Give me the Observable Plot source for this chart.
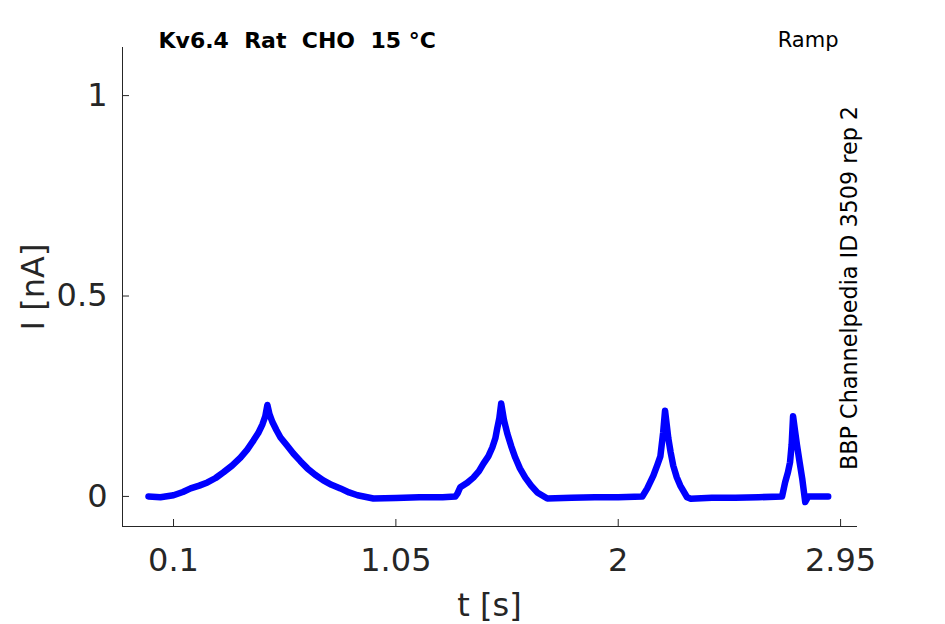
<!DOCTYPE html>
<html><head><meta charset="utf-8">
<script src="https://cdn.jsdelivr.net/npm/d3@7"></script>
<script src="https://cdn.jsdelivr.net/npm/@observablehq/plot@0.6"></script>
<style>body{margin:0;background:#fff}#chart{width:945px;height:624px}</style>
</head><body><div id="chart"></div>
<script>
const time = [-0.007, 0.044, 0.10, 0.14, 0.173, 0.21, 0.245, 0.28, 0.313, 0.35, 0.386, 0.415, 0.442, 0.462, 0.48, 0.492, 0.501, 0.51, 0.523, 0.54, 0.557, 0.585, 0.612, 0.642, 0.672, 0.705, 0.74, 0.775, 0.813, 0.85, 0.886, 0.954,
  1.05, 1.15, 1.25, 1.304, 1.313, 1.325, 1.355, 1.381, 1.405, 1.424, 1.445, 1.462, 1.475, 1.483, 1.492, 1.50, 1.512, 1.526, 1.543, 1.56, 1.58, 1.603, 1.628, 1.654, 1.697,
  1.8, 1.9, 2.0, 2.103, 2.124, 2.15, 2.168, 2.18, 2.192, 2.2, 2.207, 2.214, 2.224, 2.235, 2.25, 2.265, 2.294, 2.31,
  2.4, 2.5, 2.6, 2.7, 2.713, 2.725, 2.734, 2.741, 2.747, 2.755, 2.764, 2.775, 2.786, 2.799, 2.812, 2.85, 2.897];
const current = [0, -0.002, 0.003, 0.011, 0.02, 0.027, 0.035, 0.046, 0.06, 0.077, 0.097, 0.117, 0.14, 0.158, 0.18, 0.2, 0.228, 0.205, 0.185, 0.165, 0.147, 0.127, 0.107, 0.088, 0.07, 0.054, 0.04, 0.029, 0.02, 0.01, 0.003, -0.005,
  -0.004, -0.002, -0.002, 0, 0.007, 0.023, 0.034, 0.047, 0.063, 0.082, 0.1, 0.122, 0.145, 0.17, 0.195, 0.232, 0.19, 0.157, 0.125, 0.097, 0.07, 0.047, 0.027, 0.01, -0.005,
  -0.003, -0.002, -0.002, 0, 0.02, 0.052, 0.08, 0.1, 0.16, 0.214, 0.18, 0.145, 0.11, 0.077, 0.048, 0.027, -0.002, -0.006,
  -0.003, -0.003, -0.002, 0, 0.035, 0.06, 0.085, 0.13, 0.2, 0.165, 0.127, 0.085, 0.045, -0.014, 0, 0, 0];
const xTicks = [0.1, 1.05, 2, 2.95];
const yTicks = [0, 0.5, 1];
const xDomain = [-0.118, 3.018];
const yDomain = [-0.075, 1.12];
const titleText = "Kv6.4  Rat  CHO  15 °C";
const protocolText = "Ramp";
const sideText = "BBP Channelpedia ID 3509 rep 2";
const xLabel = "t [s]";
const yLabel = "I [nA]";

const data = time.map((t, i) => ({t, I: current[i]}));
const ink = "#262626";
const font = "DejaVu Sans";
const fmt = d => String(d);

const plot = Plot.plot({
  width: 945, height: 624,
  marginLeft: 122, marginRight: 89, marginTop: 47, marginBottom: 98,
  style: {fontFamily: font, background: "white"},
  x: {domain: xDomain},
  y: {domain: yDomain},
  marks: [
    Plot.axisX(xTicks, {tickSize: 0, tickPadding: 22, fontSize: 32, fill: ink, label: null, tickFormat: fmt}),
    Plot.axisY(yTicks, {tickSize: 0, tickPadding: 15, fontSize: 32, fill: ink, label: null, tickFormat: fmt}),
    Plot.ruleX(xTicks, {x: d => d, y1: yDomain[0], y2: yDomain[0], insetTop: -7, stroke: ink}),
    Plot.ruleY(yTicks, {y: d => d, x1: xDomain[0], x2: xDomain[0], insetRight: -7, stroke: ink}),
    Plot.frame({anchor: "left", stroke: ink}),
    Plot.frame({anchor: "bottom", stroke: ink}),
    Plot.line(data, {x: "t", y: "I", stroke: "#0000ff", strokeWidth: 6.5, strokeLinejoin: "round", strokeLinecap: "round"}),
    Plot.text([xLabel], {frameAnchor: "bottom", dy: 79, lineAnchor: "middle", fontSize: 32, fill: ink}),
    Plot.text([yLabel], {frameAnchor: "left", dx: -89, rotate: -90, textAnchor: "middle", lineAnchor: "middle", fontSize: 32, fill: ink}),
    Plot.text([titleText], {frameAnchor: "top-left", dx: 36, dy: 0, textAnchor: "start", lineAnchor: "bottom", fontSize: 22, fontWeight: "bold", fill: "black"}),
    Plot.text([protocolText], {frameAnchor: "top-right", dx: -18, dy: -1, textAnchor: "end", lineAnchor: "bottom", fontSize: 21, fill: "black"}),
    Plot.text([sideText], {frameAnchor: "right", dx: -7, dy: 1, rotate: -90, textAnchor: "middle", lineAnchor: "middle", fontSize: 22.3, fill: "black"})
  ]
});
document.getElementById("chart").appendChild(plot);
</script>
</body></html>
